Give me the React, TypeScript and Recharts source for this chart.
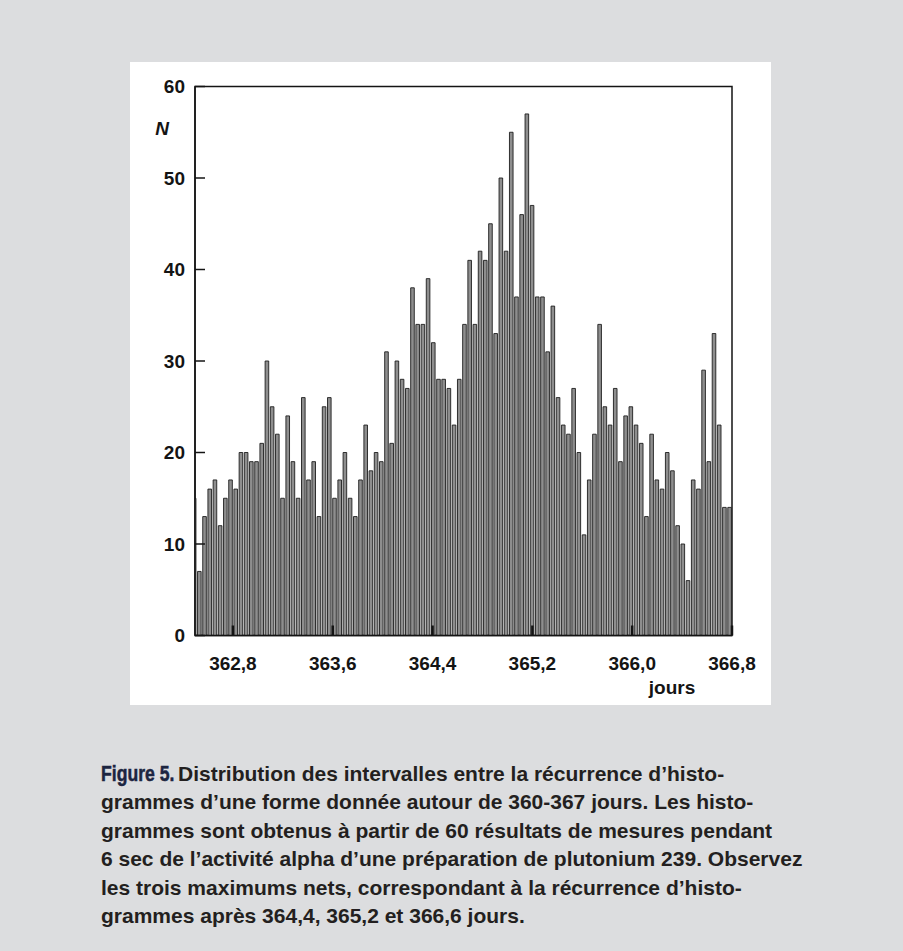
import React from 'react';
import { BarChart, Bar, XAxis, YAxis, ReferenceArea } from 'recharts';

// Number of recurrences per one-hour bin (first and last bins are cut by the frame)
const HOURLY_COUNTS: number[] = [
  15, 7, 13, 16, 17, 12, 15, 17, 16, 20,
  20, 19, 19, 21, 30, 25, 22, 15, 24, 19,
  15, 26, 17, 19, 13, 25, 26, 15, 17, 20,
  15, 13, 17, 23, 18, 20, 19, 31, 21, 30,
  28, 27, 38, 34, 34, 39, 32, 28, 28, 27,
  23, 28, 34, 41, 34, 42, 41, 45, 33, 50,
  42, 55, 37, 46, 57, 47, 37, 37, 31, 36,
  26, 23, 22, 27, 20, 11, 17, 22, 34, 25,
  23, 27, 19, 24, 25, 23, 21, 13, 22, 17,
  16, 20, 18, 12, 10, 6, 17, 16, 29, 19,
  33, 23, 14, 14,
];

// Start of the first hourly bin, in days
const FIRST_BIN_START_DAY = 362.8 - 8 / 24;
const HOURS_PER_DAY = 24;

const X_DOMAIN: [number, number] = [362.496, 366.8];
const X_TICKS = [362.8, 363.6, 364.4, 365.2, 366.0, 366.8];
const Y_TICKS = [0, 10, 20, 30, 40, 50, 60];

const CAPTION_TITLE = 'Figure 5.';
const CAPTION_LINES = [
  'Distribution des intervalles entre la récurrence d’histo-',
  'grammes d’une forme donnée autour de 360-367 jours. Les histo-',
  'grammes sont obtenus à partir de 60 résultats de mesures pendant',
  '6 sec de l’activité alpha d’une préparation de plutonium 239. Observez',
  'les trois maximums nets, correspondant à la récurrence d’histo-',
  'grammes après 364,4, 365,2 et 366,6 jours.',
];

const data = HOURLY_COUNTS.map((n, i) => ({
  day: FIRST_BIN_START_DAY + (i + 0.5) / HOURS_PER_DAY,
  n,
}));

const FONT = "'Liberation Sans', Arial, Helvetica, sans-serif";
const INK = '#141414';

const formatDay = (v: number) => v.toFixed(1).replace('.', ',');

const NLabel = (props: any) => {
  const vb = props.viewBox || { x: 0, y: 0 };
  return (
    <text
      x={vb.x + 12}
      y={vb.y + 48}
      fontFamily={FONT}
      fontWeight={700}
      fontStyle="italic"
      fontSize={19}
      fill={INK}
      textAnchor="middle"
    >
      N
    </text>
  );
};

const JoursLabel = (props: any) => {
  const vb = props.viewBox || { x: 0, y: 0, width: 0 };
  return (
    <text
      x={vb.x + vb.width - 60}
      y={vb.y + 58}
      fontFamily={FONT}
      fontWeight={700}
      fontSize={19}
      fill={INK}
      textAnchor="middle"
    >
      jours
    </text>
  );
};

export default function App() {
  return (
    <div
      style={{
        position: 'absolute',
        left: 0,
        top: 0,
        width: 903,
        height: 951,
        background: '#dcdddf',
        overflow: 'hidden',
      }}
    >
      <div
        style={{
          position: 'absolute',
          left: 130,
          top: 62,
          width: 641,
          height: 643,
          background: '#ffffff',
        }}
      >
        <BarChart
          width={641}
          height={643}
          data={data}
          margin={{ top: 24.5, right: 39, bottom: 0, left: 20 }}
        >
          <XAxis
            dataKey="day"
            type="number"
            domain={X_DOMAIN}
            allowDataOverflow
            ticks={X_TICKS}
            interval={0}
            tickFormatter={formatDay}
            height={69.5}
            tickSize={-10}
            tickMargin={31}
            axisLine={{ stroke: INK, strokeWidth: 1.5 }}
            tickLine={{ stroke: INK, strokeWidth: 2.5 }}
            tick={{ fontFamily: FONT, fontWeight: 700, fontSize: 19, fill: INK }}
            label={<JoursLabel />}
          />
          <YAxis
            type="number"
            domain={[0, 60]}
            ticks={Y_TICKS}
            interval={0}
            width={45}
            tickSize={-10}
            tickMargin={20}
            axisLine={{ stroke: INK, strokeWidth: 1.5 }}
            tickLine={{ stroke: INK, strokeWidth: 1.5 }}
            tick={{ fontFamily: FONT, fontWeight: 700, fontSize: 19, fill: INK }}
            label={<NLabel />}
          />
          <Bar
            dataKey="n"
            barSize={3.6}
            fill="#8e8e8e"
            stroke="#1e1e1e"
            strokeWidth={0.9}
            isAnimationActive={false}
          />
          <ReferenceArea
            x1={X_DOMAIN[0]}
            x2={X_DOMAIN[1]}
            y1={0}
            y2={60}
            fill="none"
            stroke={INK}
            strokeWidth={1.5}
            ifOverflow="visible"
          />
        </BarChart>
      </div>
      <div
        style={{
          position: 'absolute',
          left: 101,
          top: 760,
          fontFamily: FONT,
          fontWeight: 700,
          fontSize: 21,
          lineHeight: '28.4px',
          color: '#231f20',
          whiteSpace: 'pre',
        }}
      >
        {CAPTION_LINES.map((line, i) => (
          <div key={i}>
            {i === 0 && (
              <span
                style={{
                  display: 'inline-block',
                  width: 77,
                  whiteSpace: 'nowrap',
                }}
              >
                <span
                  style={{
                    display: 'inline-block',
                    transform: 'scaleX(0.8)',
                    transformOrigin: 'left center',
                    fontWeight: 900,
                    color: '#1c2541',
                    fontSize: 22,
                    WebkitTextStroke: '0.5px #1c2541',
                  }}
                >
                  {CAPTION_TITLE}
                </span>
              </span>
            )}
            {line}
          </div>
        ))}
      </div>
    </div>
  );
}
